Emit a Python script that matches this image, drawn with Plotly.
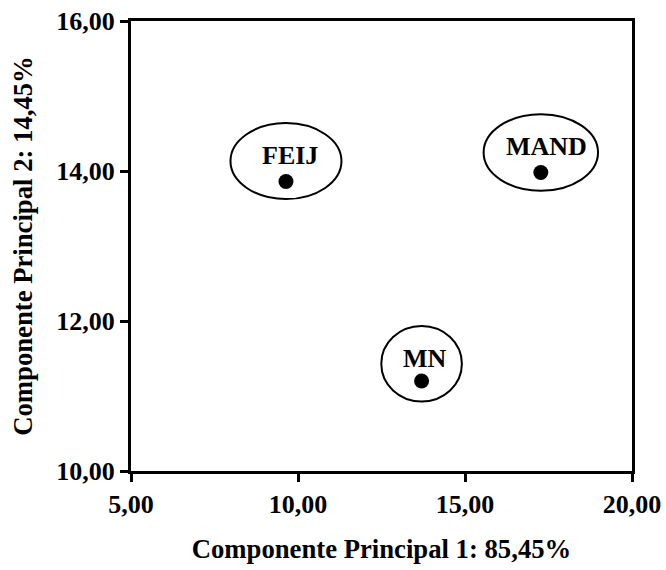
import plotly.graph_objects as go

# PCA scores for each group
groups = ["FEIJ", "MAND", "MN"]
pc1 = [9.64, 17.27, 13.70]
pc2 = [13.86, 13.98, 11.20]

x_ticks = [5, 10, 15, 20]
x_tick_text = ["5,00", "10,00", "15,00", "20,00"]
y_ticks = [10, 12, 14, 16]
y_tick_text = ["10,00", "12,00", "14,00", "16,00"]

FONT = "Liberation Serif"

# ellipse half-sizes (px) around each label, and vertical lift of label/ellipse
ell_rx = [55.5, 57.2, 40.3]
ell_ry = [38.0, 38.3, 37.8]
ell_lift = [20.4, 20.0, 17.2]
label_lift = [26.0, 26.5, 22.5]
label_dx = [4, 6, 3]

fig = go.Figure()
fig.add_trace(go.Scatter(
    x=pc1, y=pc2, mode="markers",
    marker=dict(size=15, color="black"),
    hoverinfo="text", text=groups, showlegend=False,
))

for g, xv, yv, rx, ry, lift, tl, dx in zip(groups, pc1, pc2, ell_rx, ell_ry,
                                           ell_lift, label_lift, label_dx):
    fig.add_shape(
        type="circle", xref="x", yref="y",
        xsizemode="pixel", ysizemode="pixel",
        xanchor=xv, yanchor=yv,
        x0=-rx, x1=rx, y0=lift - ry, y1=lift + ry,
        line=dict(color="black", width=2),
    )
    fig.add_annotation(
        x=xv, y=yv, xref="x", yref="y", text=f"<b>{g}</b>",
        showarrow=False, xanchor="center", yanchor="middle",
        xshift=dx, yshift=tl,
        font=dict(family=FONT, size=26, color="black"),
    )

axis_common = dict(
    showline=True, linecolor="black", linewidth=3, mirror=True,
    ticks="outside", ticklen=8, tickwidth=3, tickcolor="black",
    showgrid=False, zeroline=False, automargin=False,
    tickfont=dict(family=FONT, size=26, color="black"),
)

TITLE_FONT = dict(family=FONT, size=26.7, color="black")

fig.update_xaxes(
    range=[5, 20], tickvals=x_ticks, ticktext=[f"<b>{t}</b>" for t in x_tick_text],
    title=dict(text="<b>Componente Principal 1: 85,45%</b>",
               font=TITLE_FONT, standoff=22),
    **axis_common,
)
fig.update_yaxes(
    range=[10, 16], tickvals=y_ticks, ticktext=[f"<b>{t}</b>" for t in y_tick_text],
    title=dict(text="<b>Componente Principal 2: 14,45%</b>",
               font=TITLE_FONT, standoff=16),
    **axis_common,
)

fig.update_layout(
    width=666, height=570,
    margin=dict(l=131, r=34, t=21, b=99, autoexpand=False),
    paper_bgcolor="white", plot_bgcolor="white",
)

fig.write_html("out.html")
